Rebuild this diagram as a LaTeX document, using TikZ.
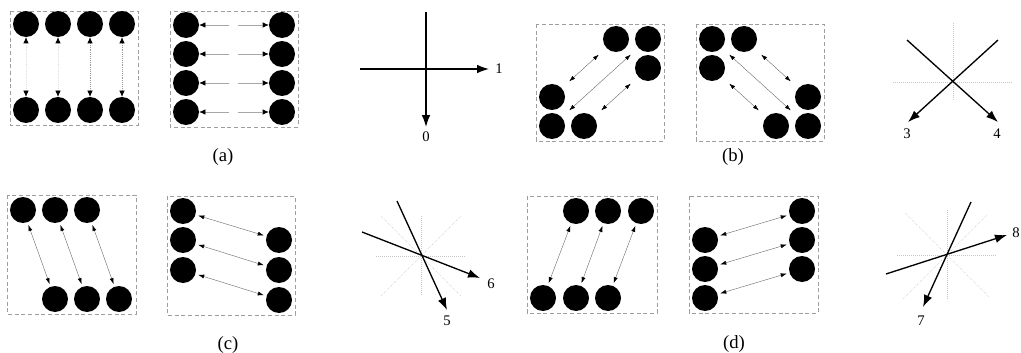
\documentclass[tikz,border=0pt]{standalone}
\usepackage{fontspec}
\setmainfont{Liberation Serif}
\usetikzlibrary{arrows.meta,positioning}
\tikzset{
  ball/.style={circle, fill=black, minimum size=19.5pt, inner sep=0pt},
  panelframe/.style={draw=black!38, densely dashed, line width=0.4pt},
  guideline/.style={draw=black!22, densely dotted, line width=0.5pt},
  apair/.style={{Latex[length=4.5pt,width=4pt,black]}-{Latex[length=4.5pt,width=4pt,black]}, draw=black!40, densely dotted, line width=0.4pt},
  pairarrow/.style={{Latex[length=4.5pt,width=3pt,black]}-{Latex[length=4.5pt,width=3pt,black]}, draw=black!60, line width=0.3pt, shorten <=2pt, shorten >=2pt},
  ray/.style={-{Latex[length=9pt,width=6.5pt]}, line width=1pt},
  dirlabel/.style={font=\fontsize{11}{12}\selectfont, inner sep=1pt},
  sublabel/.style={font=\fontsize{14}{16}\selectfont, inner sep=1pt}
}
\begin{document}
\begin{tikzpicture}[x=0.75pt, y=-0.75pt]
  \useasboundingbox (0,0) rectangle (1021,353);

  % (a) vertical pairs
  \draw[panelframe] (10,11) rectangle (138,125);
  \node[ball] (aT1) at (26,24) {};
  \node[ball] (aT2) at (58,24) {};
  \node[ball] (aT3) at (90,24) {};
  \node[ball] (aT4) at (122,24) {};
  \node[ball] (aB1) at (26,110) {};
  \node[ball] (aB2) at (58,110) {};
  \node[ball] (aB3) at (90,110) {};
  \node[ball] (aB4) at (122,110) {};
  \draw[apair, draw=black!12] (aT1) -- (aB1);
  \draw[apair, draw=black!12] (aT2) -- (aB2);
  \draw[apair] (aT3) -- (aB3);
  \draw[apair] (aT4) -- (aB4);

  % (a) horizontal pairs
  \draw[panelframe] (170,11) rectangle (298,127);
  \node[ball] (aL1) at (186,25) {};
  \node[ball] (aL2) at (186,54) {};
  \node[ball] (aL3) at (186,83) {};
  \node[ball] (aL4) at (186,112) {};
  \node[ball] (aR1) at (282,25) {};
  \node[ball] (aR2) at (282,54) {};
  \node[ball] (aR3) at (282,83) {};
  \node[ball] (aR4) at (282,112) {};
  \draw[apair, solid, draw=black!35, dash pattern=on 18pt off 7pt] (aL1) -- (aR1);
  \draw[apair, solid, draw=black!35, dash pattern=on 18pt off 7pt] (aL2) -- (aR2);
  \draw[apair, solid, draw=black!35, dash pattern=on 18pt off 7pt] (aL3) -- (aR3);
  \draw[apair, solid, draw=black!35, dash pattern=on 18pt off 7pt] (aL4) -- (aR4);
  \node[sublabel] (capA) at (223,157) {(a)};

  % directions 0 and 1
  \coordinate (s1) at (360,69);
  \coordinate (t1) at (489,69);
  \coordinate (s0) at (426,12);
  \coordinate (t0) at (426,127);
  \draw[ray] (s1) -- (t1);
  \draw[ray] (s0) -- (t0);
  \node[dirlabel] (l1) at (499,69) {1};
  \node[dirlabel] (l0) at (426,137) {0};

  % (b) diagonal pairs
  \draw[panelframe] (536,24) rectangle (664,141);
  \node[ball] (bU1) at (616,39) {};
  \node[ball] (bU2) at (648,39) {};
  \node[ball] (bU3) at (648,68) {};
  \node[ball] (bD1) at (552,97) {};
  \node[ball] (bD2) at (552,126) {};
  \node[ball] (bD3) at (584,126) {};
  \draw[pairarrow, shorten <=7.5pt, shorten >=7.5pt] (bD1) -- (bU1);
  \draw[pairarrow, shorten <=7.5pt, shorten >=7.5pt] (bD2) -- (bU2);
  \draw[pairarrow, shorten <=7.5pt, shorten >=7.5pt] (bD3) -- (bU3);

  \draw[panelframe] (696,24) rectangle (824,141);
  \node[ball] (bV1) at (712,39) {};
  \node[ball] (bV2) at (744,39) {};
  \node[ball] (bV3) at (712,68) {};
  \node[ball] (bE1) at (808,97) {};
  \node[ball] (bE2) at (808,126) {};
  \node[ball] (bE3) at (776,126) {};
  \draw[pairarrow, shorten <=7.5pt, shorten >=7.5pt] (bV2) -- (bE1);
  \draw[pairarrow, shorten <=7.5pt, shorten >=7.5pt] (bV1) -- (bE2);
  \draw[pairarrow, shorten <=7.5pt, shorten >=7.5pt] (bV3) -- (bE3);
  \node[sublabel] (capB) at (733,157) {(b)};

  % directions 3 and 4
  \coordinate (c34) at (953,82);
  \draw[guideline] (893,82) -- (1012,82);
  \draw[guideline] (953,23) -- (953,100);
  \coordinate (s3) at (998,40);
  \coordinate (t3) at (908,122);
  \coordinate (s4) at (907,40);
  \coordinate (t4) at (998,122);
  \draw[ray] (s3) -- (t3);
  \draw[ray] (s4) -- (t4);
  \node[dirlabel] (l3) at (907,134) {3};
  \node[dirlabel] (l4) at (997,134) {4};

  % (c) steep pairs
  \draw[panelframe] (7,195) rectangle (136,314);
  \node[ball] (cT1) at (23,210) {};
  \node[ball] (cT2) at (55,210) {};
  \node[ball] (cT3) at (87,210) {};
  \node[ball] (cB1) at (55,299) {};
  \node[ball] (cB2) at (87,299) {};
  \node[ball] (cB3) at (119,299) {};
  \draw[pairarrow] (cT1) -- (cB1);
  \draw[pairarrow] (cT2) -- (cB2);
  \draw[pairarrow] (cT3) -- (cB3);

  \draw[panelframe] (167,196) rectangle (295,315);
  \node[ball] (cL1) at (183,211) {};
  \node[ball] (cL2) at (183,240) {};
  \node[ball] (cL3) at (183,270) {};
  \node[ball] (cR1) at (279,240) {};
  \node[ball] (cR2) at (279,270) {};
  \node[ball] (cR3) at (279,300) {};
  \draw[pairarrow] (cL1) -- (cR1);
  \draw[pairarrow] (cL2) -- (cR2);
  \draw[pairarrow] (cL3) -- (cR3);
  \node[sublabel] (capC) at (228,345) {(c)};

  % directions 5 and 6
  \coordinate (c56) at (421,256);
  \draw[guideline] (c56) ++(-45,0) -- ++(90,0);
  \draw[guideline] (c56) ++(0,-40) -- ++(0,80);
  \draw[guideline] (c56) ++(-40,-40) -- ++(80,80);
  \draw[guideline] (c56) ++(40,-40) -- ++(-80,80);
  \coordinate (s5) at (397,201);
  \coordinate (t5) at (447,310);
  \coordinate (s6) at (362,232);
  \coordinate (t6) at (480,278);
  \draw[ray] (s5) -- (t5);
  \draw[ray] (s6) -- (t6);
  \node[dirlabel] (l5) at (447,321) {5};
  \node[dirlabel] (l6) at (491,284) {6};

  % (d) slanted pairs
  \draw[panelframe] (527,196) rectangle (657,313);
  \node[ball] (dT1) at (576,211) {};
  \node[ball] (dT2) at (608,211) {};
  \node[ball] (dT3) at (641,211) {};
  \node[ball] (dB1) at (543,298) {};
  \node[ball] (dB2) at (576,298) {};
  \node[ball] (dB3) at (608,298) {};
  \draw[pairarrow] (dT1) -- (dB1);
  \draw[pairarrow] (dT2) -- (dB2);
  \draw[pairarrow] (dT3) -- (dB3);

  \draw[panelframe] (689,196) rectangle (818,313);
  \node[ball] (dL1) at (705,240) {};
  \node[ball] (dL2) at (705,269) {};
  \node[ball] (dL3) at (705,298) {};
  \node[ball] (dR1) at (802,211) {};
  \node[ball] (dR2) at (802,240) {};
  \node[ball] (dR3) at (802,269) {};
  \draw[pairarrow] (dL1) -- (dR1);
  \draw[pairarrow] (dL2) -- (dR2);
  \draw[pairarrow] (dL3) -- (dR3);
  \node[sublabel] (capD) at (734,344) {(d)};

  % directions 7 and 8
  \coordinate (c78) at (947,255);
  \draw[guideline] (c78) ++(-50,0) -- ++(100,0);
  \draw[guideline] (c78) ++(0,-45) -- ++(0,90);
  \draw[guideline] (c78) ++(-42,-42) -- ++(84,84);
  \draw[guideline] (c78) ++(40,-40) -- ++(-84,84);
  \coordinate (s7) at (971,202);
  \coordinate (t7) at (923,307);
  \coordinate (s8) at (886,274);
  \coordinate (t8) at (1007,235);
  \draw[ray] (s7) -- (t7);
  \draw[ray] (s8) -- (t8);
  \node[dirlabel] (l7) at (921,321) {7};
  \node[dirlabel] (l8) at (1016,233) {8};
\end{tikzpicture}
\end{document}
